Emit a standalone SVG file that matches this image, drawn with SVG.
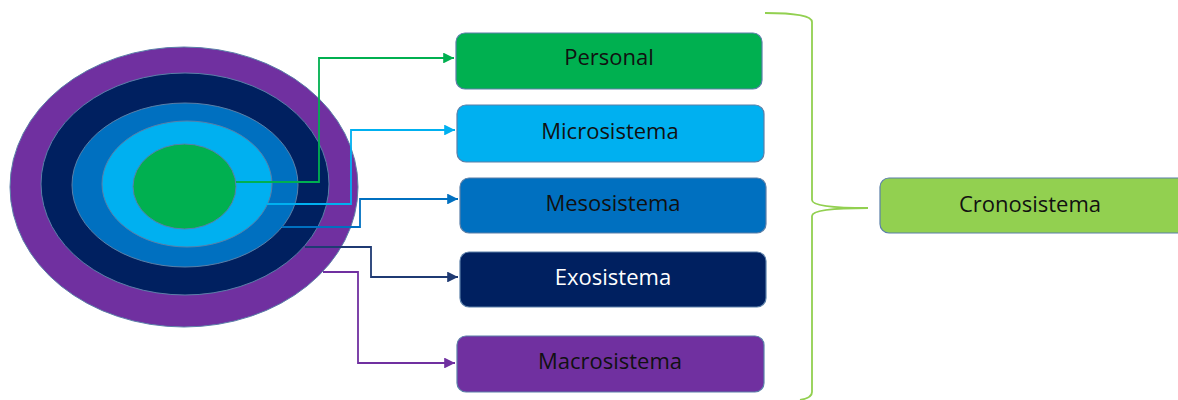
<svg xmlns="http://www.w3.org/2000/svg" width="1178" height="400" viewBox="0 0 1178 400">
<style>
.box{stroke:#5a7fa8;stroke-width:1.2}
.lbl{font-family:"Open Sans","Noto Sans",sans-serif;font-size:22px;text-anchor:middle;fill:#111}
.ring{stroke:#5a7fa8;stroke-width:1}
.con{fill:none;stroke-width:1.8}
</style>
<defs>
<marker id="aG" viewBox="0 0 10 10" refX="10" refY="5" markerWidth="6" markerHeight="6" orient="auto" markerUnits="strokeWidth"><path d="M0,0L10,5L0,10z" fill="#00B050"/></marker>
<marker id="aL" viewBox="0 0 10 10" refX="10" refY="5" markerWidth="6" markerHeight="6" orient="auto" markerUnits="strokeWidth"><path d="M0,0L10,5L0,10z" fill="#00B0F0"/></marker>
<marker id="aB" viewBox="0 0 10 10" refX="10" refY="5" markerWidth="6" markerHeight="6" orient="auto" markerUnits="strokeWidth"><path d="M0,0L10,5L0,10z" fill="#0070C0"/></marker>
<marker id="aN" viewBox="0 0 10 10" refX="10" refY="5" markerWidth="6" markerHeight="6" orient="auto" markerUnits="strokeWidth"><path d="M0,0L10,5L0,10z" fill="#1F3A73"/></marker>
<marker id="aP" viewBox="0 0 10 10" refX="10" refY="5" markerWidth="6" markerHeight="6" orient="auto" markerUnits="strokeWidth"><path d="M0,0L10,5L0,10z" fill="#7030A0"/></marker>
</defs>
<g id="rings">
<ellipse class="ring" cx="184" cy="187" rx="174" ry="140" fill="#7030A0"/>
<ellipse class="ring" cx="185" cy="184" rx="144" ry="111" fill="#002060"/>
<ellipse class="ring" cx="185" cy="185" rx="113" ry="82" fill="#0070C0"/>
<ellipse class="ring" cx="187" cy="184" rx="85" ry="63" fill="#00B0F0"/>
<ellipse class="ring" cx="184.5" cy="186.5" rx="51.5" ry="42.5" fill="#00B050"/>
</g>
<g id="connectors">
<path class="con" d="M236,182H319V58H454" stroke="#00B050" marker-end="url(#aG)"/>
<path class="con" d="M267,204H351V130H455" stroke="#00B0F0" marker-end="url(#aL)"/>
<path class="con" d="M282,227H360V199H458" stroke="#0070C0" marker-end="url(#aB)"/>
<path class="con" d="M305,247H371V277H458" stroke="#1F3A73" marker-end="url(#aN)"/>
<path class="con" d="M323,272H358V363H455" stroke="#7030A0" marker-end="url(#aP)"/>
<path id="brace" fill="none" stroke="#92D050" stroke-width="1.8" d="M765,13Q812,13 812,22V200Q812,208 868,208Q812,208 812,216V392Q812,398 800,400"/>
</g>
<g id="personal"><rect class="box" x="456" y="33" width="306" height="56" rx="9" fill="#00B050"/><text class="lbl" x="609" y="65">Personal</text></g>
<g id="microsistema"><rect class="box" x="457" y="105" width="307" height="57" rx="9" fill="#00B0F0"/><text class="lbl" x="610" y="139">Microsistema</text></g>
<g id="mesosistema"><rect class="box" x="460" y="178" width="306" height="55" rx="9" fill="#0070C0"/><text class="lbl" x="613" y="211">Mesosistema</text></g>
<g id="exosistema"><rect class="box" x="460" y="252" width="306" height="55" rx="9" fill="#002060"/><text class="lbl" x="613" y="285" style="fill:#fff">Exosistema</text></g>
<g id="macrosistema"><rect class="box" x="457" y="336" width="307" height="56" rx="9" fill="#7030A0"/><text class="lbl" x="610" y="369">Macrosistema</text></g>
<g id="cronosistema"><rect class="box" x="880" y="178" width="310" height="55" rx="9" fill="#92D050"/><text class="lbl" x="1030" y="212">Cronosistema</text></g>
</svg>
